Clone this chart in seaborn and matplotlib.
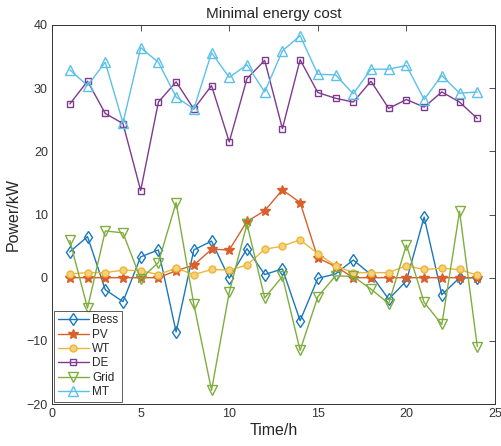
import numpy as np
import pandas as pd
import seaborn as sns
import matplotlib
matplotlib.use("Agg")
import matplotlib.pyplot as plt

sns.set_theme(style="white")
plt.rcParams['font.family'] = ['Liberation Sans', 'DejaVu Sans']

hours = list(range(1, 25))

bess = [4.1, 6.5, -1.9, -3.8, 3.3, 4.4, -8.6, 4.4, 5.8, -0.1, 4.6, 0.5,
        1.4, -6.8, -0.1, 0.6, 2.8, 0.5, -3.4, -0.5, 9.6, -2.7, 0.0, 0.0]
pv = [0, 0, 0, 0, 0, 0, 1.1, 2.0, 4.5, 4.4, 8.9, 10.6,
      13.9, 11.9, 3.1, 1.8, 0, 0, 0, 0, 0, 0, 0, 0]
wt = [0.6, 0.8, 0.8, 1.2, 1.1, 0.5, 1.5, 0.5, 1.3, 1.2, 2.0, 4.5,
      5.0, 6.0, 3.8, 1.9, 0.8, 0.8, 0.8, 1.9, 1.3, 1.5, 1.3, 0.4]
de = [27.5, 31.1, 26.0, 24.4, 13.8, 27.8, 31.0, 26.7, 30.4, 21.5, 31.5, 34.4,
      23.6, 34.5, 29.3, 28.4, 27.8, 31.1, 26.8, 28.2, 27.0, 29.4, 27.8, 25.2]
grid = [5.9, -4.8, 7.4, 7.1, -0.2, 2.4, 11.9, -4.2, -17.8, -2.3, 8.5, -3.2,
        0.2, -11.5, -3.0, 0.3, 0.2, -1.8, -4.1, 5.2, -3.9, -7.4, 10.5, -10.9]
mt = [32.9, 30.4, 34.1, 24.5, 36.4, 34.1, 28.6, 26.7, 35.6, 31.7, 33.7, 29.4,
      35.9, 38.3, 32.2, 32.1, 29.1, 33.0, 33.0, 33.6, 28.2, 32.0, 29.2, 29.4]

names = ['Bess', 'PV', 'WT', 'DE', 'Grid', 'MT']
series = [bess, pv, wt, de, grid, mt]
colors = ['#1A78BA', '#D95F2B', '#EDB53A', '#7E3A8E', '#7FAE3E', '#5BC0EA']
markers = ['d', '*', 'o', 's', 'v', '^']
faces = ['none', '#D95F2B', '#F5D27A', 'none', 'none', 'none']
msizes = [6, 7, 5, 5, 7, 7]

fig = plt.figure(figsize=(5.01, 4.46), dpi=100)
ax = fig.add_axes([0.104, 0.094, 0.884, 0.850])

for name, vals, c, m, fc, ms in zip(names, series, colors, markers, faces, msizes):
    sns.lineplot(x=hours, y=vals, ax=ax, color=c, marker=m, markersize=ms,
                 markerfacecolor=fc, markeredgecolor=c, markeredgewidth=1.0,
                 linewidth=1.0, label=name)

ax.set_xlim(0, 25)
ax.set_ylim(-20, 40)
ax.set_xticks([0, 5, 10, 15, 20, 25])
ax.set_yticks([-20, -10, 0, 10, 20, 30, 40])
ax.tick_params(direction='in', top=True, right=True, length=4, width=0.6,
               labelsize=9, colors='#333333', pad=3)
for s in ax.spines.values():
    s.set_color('#333333')
    s.set_linewidth(0.7)

ax.set_title('Minimal energy cost', fontsize=11, pad=5)
ax.set_xlabel('Time/h', fontsize=11.5, labelpad=2)
ax.set_ylabel('Power/kW', fontsize=11.5, labelpad=4)

leg = ax.legend(loc='lower left', fontsize=8.5, frameon=True, fancybox=False,
                borderpad=0.3, labelspacing=0.2, handlelength=2.6,
                handletextpad=0.3, borderaxespad=0.2)
leg.get_frame().set_edgecolor('#333333')
leg.get_frame().set_linewidth(0.7)

fig.savefig('out.png', dpi=100)
